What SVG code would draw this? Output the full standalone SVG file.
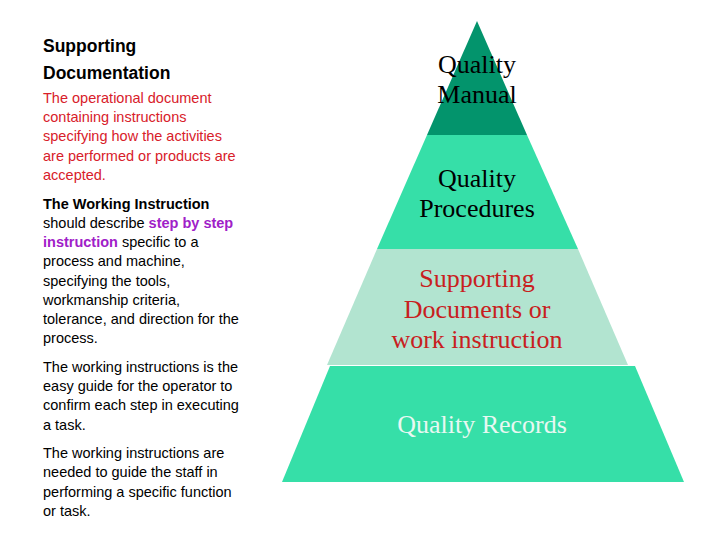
<svg xmlns="http://www.w3.org/2000/svg" width="720" height="540" viewBox="0 0 720 540">
<style>
.b{font-family:"Liberation Sans",Arial,sans-serif;font-size:14.5px;fill:#000}
.r{fill:#d8202a}
.p{fill:#a020c8;font-weight:bold}
.h{font-family:"Liberation Sans",Arial,sans-serif;font-size:17.5px;font-weight:bold;fill:#000}
.t{font-family:"Liberation Serif","Times New Roman",serif;font-size:26px;text-anchor:middle}
</style>
<rect width="720" height="540" fill="#fff"/>
<g id="text-left">
<text class="h" x="43" y="52">Supporting</text>
<text class="h" x="43" y="79">Documentation</text>
<text class="b r" x="43" y="103">The operational document</text>
<text class="b r" x="43" y="122">containing instructions</text>
<text class="b r" x="43" y="141">specifying how the activities</text>
<text class="b r" x="43" y="161">are performed or products are</text>
<text class="b r" x="43" y="180">accepted.</text>
<text class="b" x="43" y="209"><tspan font-weight="bold">The Working Instruction</tspan></text>
<text class="b" x="43" y="228">should describe <tspan class="p">step by step</tspan></text>
<text class="b" x="43" y="247"><tspan class="p">instruction</tspan> specific to a</text>
<text class="b" x="43" y="266">process and  machine,</text>
<text class="b" x="43" y="286">specifying the tools,</text>
<text class="b" x="43" y="305">workmanship criteria,</text>
<text class="b" x="43" y="324">tolerance, and direction for the</text>
<text class="b" x="43" y="343">process.</text>
<text class="b" x="43" y="372">The working instructions is the</text>
<text class="b" x="43" y="391">easy guide for the operator to</text>
<text class="b" x="43" y="410">confirm each step in executing</text>
<text class="b" x="43" y="430">a task.</text>
<text class="b" x="43" y="458">The working instructions are</text>
<text class="b" x="43" y="477">needed to guide the staff in</text>
<text class="b" x="43" y="497">performing a specific function</text>
<text class="b" x="43" y="516">or task.</text>
</g>
<g id="manual">
<polygon points="477,21 527,135 427,135" fill="#03946c"/>
<text class="t" x="477" y="73">Quality</text>
<text class="t" x="477" y="103">Manual</text>
</g>
<g id="procedures">
<polygon points="427,135 527,135 578,249 377,249" fill="#36dfa8"/>
<text class="t" x="477" y="187">Quality</text>
<text class="t" x="477" y="217">Procedures</text>
</g>
<g id="supporting">
<polygon points="377,249 578,249 628,365 327,365" fill="#b2e4d0"/>
<text class="t" x="477" y="287" fill="#c8201e">Supporting</text>
<text class="t" x="477" y="318" fill="#c8201e">Documents or</text>
<text class="t" x="477" y="348" fill="#c8201e">work instruction</text>
</g>
<g id="records">
<polygon points="330,366 635,366 684,482 282,482" fill="#36dfa8"/>
<text class="t" x="482" y="433" fill="#e8f8f2">Quality Records</text>
</g>
<g id="connectors"/>
</svg>
